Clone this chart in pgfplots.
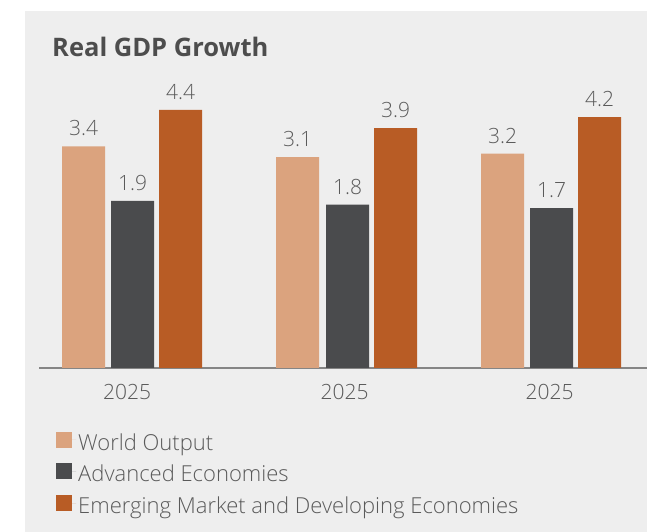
\documentclass[border=0pt]{standalone}
\usepackage{pgfplots}
\pgfplotsset{compat=1.18}
\usepackage{pgfplotstable}
\usepackage{fontspec}
\setmainfont{Open Sans Light}[BoldFont={Open Sans Bold}]
\definecolor{bg}{HTML}{EEEEEE}
\definecolor{cworld}{HTML}{DBA37E}
\definecolor{cadv}{HTML}{4A4B4D}
\definecolor{cem}{HTML}{B85C25}
\definecolor{ctitle}{HTML}{4D4D4D}
\definecolor{ctext}{HTML}{5A5A5A}
\definecolor{caxis}{HTML}{858585}
\pgfplotstableread{
x v
83.5 3.4
297.5 3.1
502.5 3.2
}\world
\pgfplotstableread{
x v
132.5 1.9
347.5 1.8
551.5 1.7
}\adv
\pgfplotstableread{
x v
180.5 4.4
395.5 3.9
599.5 4.2
}\emerg
\begin{document}
\begin{tikzpicture}[x=1pt,y=1pt]
\useasboundingbox (0,0) rectangle (647,532);
\fill[bg] (25,0) rectangle (647,521);
\node[anchor=base west, inner sep=0pt, text=ctitle, font=\fontsize{25.5}{29}\selectfont\bfseries] at (52,475) {Real GDP Growth};
\begin{axis}[
  at={(39pt,164pt)}, anchor=south west,
  scale only axis, width=608pt, height=273pt,
  xmin=39, xmax=647, ymin=0, ymax=7.5,
  axis x line*=bottom, axis y line=none,
  x axis line style={draw=caxis, line width=1.5pt, -},
  ybar, bar shift=0pt, bar width=43pt,
  clip=false,
  xtick={127,344.5,549.5}, xticklabels={2025,2025,2025},
  major tick length=0pt,
  xticklabel style={inner sep=0pt, anchor=north, yshift=-16pt, text=ctext, font=\fontsize{21}{24}\selectfont},
  /pgf/number format/assume math mode=true,
  point meta=explicit,
  nodes near coords,
  nodes near coords style={text=ctext, font=\fontsize{21}{24}\selectfont, anchor=south, inner sep=0pt, yshift=10pt, /pgf/number format/fixed, /pgf/number format/precision=1, /pgf/number format/fixed zerofill},
  legend style={at={(rel axis cs:0.028,-0.232)}, anchor=north west, draw=none, fill=none, inner sep=0pt, row sep=9.5pt, font=\fontsize{22}{25}\selectfont, text=ctext},
  legend cell align=left,
  legend image code/.code={\fill[#1] (0pt,-5pt) rectangle (16pt,11pt); \path (0pt,3pt) -- (20pt,3pt);},
]
\addplot[draw=none, fill=cworld] table[x=x, y expr=\thisrow{v}+2.69, meta=v]{\world};
\addplot[draw=none, fill=cadv] table[x=x, y expr=\thisrow{v}+2.69, meta=v]{\adv};
\addplot[draw=none, fill=cem] table[x=x, y expr=\thisrow{v}+2.69, meta=v]{\emerg};
\legend{World Output, Advanced Economies, Emerging Market and Developing Economies}
\end{axis}
\end{tikzpicture}
\end{document}
